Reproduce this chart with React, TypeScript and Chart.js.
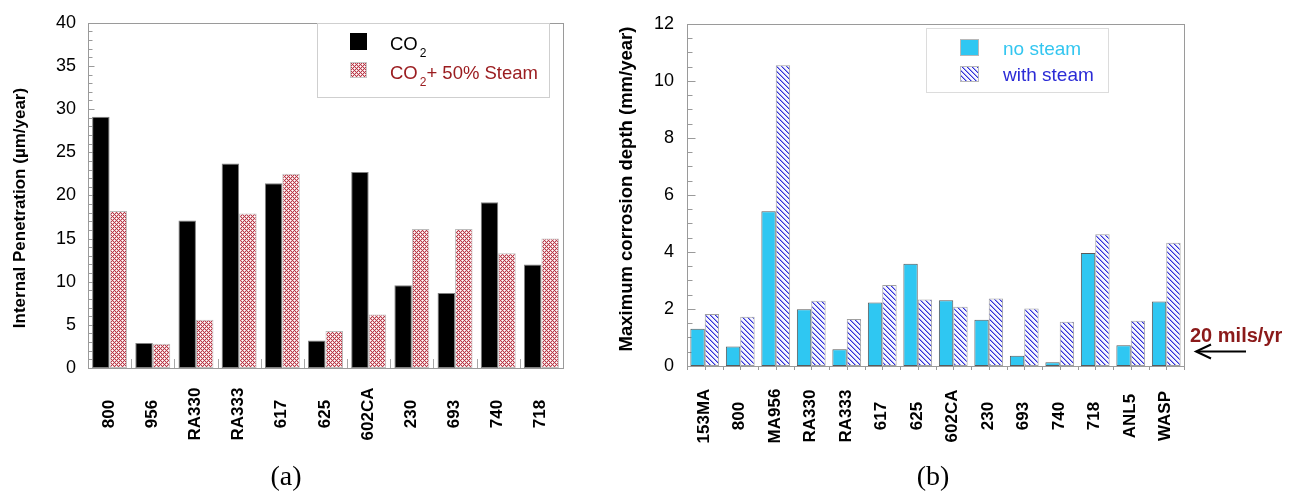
import React, { useEffect, useRef } from 'react';
import { Chart, registerables } from 'chart.js';

Chart.register(...registerables);

const FONT = "'Liberation Sans', Arial, Helvetica, sans-serif";
const SERIF = "'Liberation Serif', 'Times New Roman', serif";

// ---------- Panel (a) data ----------
const alloysA = ['800', '956', 'RA330', 'RA333', '617', '625', '602CA', '230', '693', '740', '718'];
const co2Values = [29.1, 2.9, 17.1, 23.7, 21.4, 3.2, 22.7, 9.6, 8.7, 19.2, 12.0];
const co2SteamValues = [18.2, 2.8, 5.6, 17.9, 22.5, 4.3, 6.2, 16.1, 16.1, 13.3, 15.0];
const yMaxA = 40;
const yStepA = 5;
const yMinorA = 1;
const yTitleA = 'Internal Penetration (\u00B5m/year)';

// ---------- Panel (b) data ----------
const alloysB = ['153MA', '800', 'MA956', 'RA330', 'RA333', '617', '625', '602CA', '230', '693', '740', '718', 'ANL5', 'WASP'];
const noSteamValues = [1.31, 0.68, 5.43, 1.99, 0.59, 2.23, 3.59, 2.31, 1.62, 0.36, 0.13, 3.96, 0.73, 2.26];
const withSteamValues = [1.82, 1.73, 10.55, 2.29, 1.65, 2.84, 2.33, 2.08, 2.37, 2.02, 1.55, 4.62, 1.59, 4.32];
const yMaxB = 12;
const yStepB = 2;
const yMinorB = 0.5;
const yTitleB = 'Maximum corrosion depth (mm/year)';
const arrowMilsPerYear = 20;
const arrowValueMm = arrowMilsPerYear * 0.0254;

function makeCrossPattern(): CanvasPattern | string {
  const c = document.createElement('canvas');
  c.width = 4;
  c.height = 4;
  const g = c.getContext('2d');
  if (!g) return '#c06070';
  const R = '#b63a48';
  const P = '#efc6cb';
  const W = '#ffffff';
  const map = [
    [R, P, W, P],
    [P, R, P, R],
    [W, P, R, P],
    [P, R, P, R],
  ];
  for (let yy = 0; yy < 4; yy++) {
    for (let xx = 0; xx < 4; xx++) {
      g.fillStyle = map[yy][xx];
      g.fillRect(xx, yy, 1, 1);
    }
  }
  return g.createPattern(c, 'repeat') || '#c06070';
}

function makeHatchPattern(): CanvasPattern | string {
  const c = document.createElement('canvas');
  c.width = 5;
  c.height = 5;
  const g = c.getContext('2d');
  if (!g) return '#8080e0';
  g.fillStyle = '#f6f6ff';
  g.fillRect(0, 0, 5, 5);
  for (let i = 0; i < 5; i++) {
    g.fillStyle = '#3030d8';
    g.fillRect(i, i, 1, 1);
    g.fillStyle = '#9c9cee';
    g.fillRect((i + 1) % 5, i, 1, 1);
  }
  return g.createPattern(c, 'repeat') || '#8080e0';
}

function hLine(ctx: CanvasRenderingContext2D, x1: number, y: number, x2: number) {
  ctx.beginPath();
  ctx.moveTo(x1, y);
  ctx.lineTo(x2, y);
  ctx.stroke();
}
function vLine(ctx: CanvasRenderingContext2D, x: number, y1: number, y2: number) {
  ctx.beginPath();
  ctx.moveTo(x, y1);
  ctx.lineTo(x, y2);
  ctx.stroke();
}

function drawFrame(chart: any, yMax: number, yStep: number, yMinor: number, majorLen: number, minorLen: number) {
  const { ctx, chartArea: a, scales } = chart;
  const y = scales.y;
  ctx.save();
  ctx.strokeStyle = '#9a9a9a';
  ctx.lineWidth = 1;
  const l = Math.round(a.left) + 0.5;
  const r = Math.round(a.right) + 0.5;
  const t = Math.round(a.top) + 0.5;
  const b = Math.round(a.bottom) + 0.5;
  ctx.strokeRect(l, t, r - l, b - t);
  const n = Math.round(yMax / yMinor);
  for (let k = 1; k < n; k++) {
    const v = k * yMinor;
    const py = Math.round(y.getPixelForValue(v)) + 0.5;
    const isMajor = Math.abs(v / yStep - Math.round(v / yStep)) < 1e-6;
    hLine(ctx, l, py, l + (isMajor ? majorLen : minorLen));
  }
  ctx.restore();
}

function drawRotatedLabels(chart: any, labels: string[], centerY: number) {
  const { ctx, scales } = chart;
  const x = scales.x;
  ctx.save();
  ctx.fillStyle = '#000';
  ctx.font = `bold 17px ${FONT}`;
  ctx.textAlign = 'center';
  ctx.textBaseline = 'alphabetic';
  labels.forEach((lab, i) => {
    const px = x.getPixelForValue(i);
    ctx.save();
    ctx.translate(px + 4, centerY);
    ctx.rotate(-Math.PI / 2);
    ctx.fillText(lab, 0, 0);
    ctx.restore();
  });
  ctx.restore();
}

function drawYTitle(ctx: CanvasRenderingContext2D, text: string, cx: number, cy: number, size: number) {
  ctx.save();
  ctx.fillStyle = '#000';
  ctx.font = `bold ${size}px ${FONT}`;
  ctx.textAlign = 'center';
  ctx.textBaseline = 'middle';
  ctx.translate(cx, cy);
  ctx.rotate(-Math.PI / 2);
  ctx.fillText(text, 0, 0);
  ctx.restore();
}

function drawPanelLetter(ctx: CanvasRenderingContext2D, text: string, cx: number) {
  ctx.save();
  ctx.fillStyle = '#000';
  ctx.font = `28px ${SERIF}`;
  ctx.textAlign = 'center';
  ctx.textBaseline = 'alphabetic';
  ctx.fillText(text, cx, 485);
  ctx.restore();
}

function makePluginA(cross: CanvasPattern | string) {
  return {
    id: 'panelA',
    beforeDatasetsDraw(chart: any) {
      drawFrame(chart, yMaxA, yStepA, yMinorA, 6, 4);
      const { ctx, chartArea: a, scales } = chart;
      const x = scales.x;
      ctx.save();
      ctx.strokeStyle = '#a8a8a8';
      ctx.lineWidth = 1;
      for (let i = 1; i < alloysA.length; i++) {
        const px = Math.round((x.getPixelForValue(i - 1) + x.getPixelForValue(i)) / 2) + 0.5;
        vLine(ctx, px, Math.round(a.bottom), Math.round(a.bottom) - 9);
      }
      ctx.restore();
    },
    afterDraw(chart: any) {
      const { ctx } = chart;
      drawRotatedLabels(chart, alloysA, 414);
      drawYTitle(ctx, yTitleA, 20, 208, 17);
      drawPanelLetter(ctx, '(a)', 286);
      // legend
      ctx.save();
      ctx.fillStyle = '#ffffff';
      ctx.fillRect(317.5, 23.5, 232, 74);
      ctx.strokeStyle = '#cfcfcf';
      ctx.lineWidth = 1;
      ctx.strokeRect(317.5, 23.5, 232, 74);
      ctx.fillStyle = '#000';
      ctx.fillRect(350, 33, 17, 17);
      ctx.fillStyle = cross as any;
      ctx.fillRect(350, 62, 17, 16);
      ctx.strokeStyle = '#c8c8c8';
      ctx.strokeRect(350.5, 62.5, 16, 15);
      ctx.textAlign = 'left';
      ctx.textBaseline = 'alphabetic';
      ctx.font = `18.5px ${FONT}`;
      ctx.fillStyle = '#000';
      ctx.fillText('CO', 390, 50);
      const coW = ctx.measureText('CO').width;
      ctx.font = `12px ${FONT}`;
      ctx.fillText('2', 390 + coW + 2, 57);
      const red = '#9b1d20';
      ctx.fillStyle = red;
      ctx.font = `18.5px ${FONT}`;
      ctx.fillText('CO', 390, 79);
      ctx.font = `12px ${FONT}`;
      ctx.fillText('2', 390 + coW + 2, 86);
      const twoW = ctx.measureText('2').width;
      ctx.font = `18.5px ${FONT}`;
      ctx.fillText('+ 50% Steam', 390 + coW + 2 + twoW, 79);
      ctx.restore();
    },
  };
}

function makePluginB(hatch: CanvasPattern | string) {
  return {
    id: 'panelB',
    beforeDatasetsDraw(chart: any) {
      drawFrame(chart, yMaxB, yStepB, yMinorB, 8, 5);
      const { ctx, chartArea: a, scales } = chart;
      const x = scales.x;
      ctx.save();
      ctx.strokeStyle = '#9a9a9a';
      ctx.lineWidth = 1;
      const n = alloysB.length;
      const half = (x.getPixelForValue(1) - x.getPixelForValue(0)) / 2;
      for (let i = 0; i < n; i++) {
        const c = x.getPixelForValue(i);
        const pts = [c - half, c];
        if (i === n - 1) pts.push(c + half);
        pts.forEach((p) => {
          const px = Math.round(p) + 0.5;
          vLine(ctx, px, Math.round(a.bottom), Math.round(a.bottom) + 4);
        });
      }
      ctx.restore();
    },
    afterDraw(chart: any) {
      const { ctx, scales } = chart;
      drawRotatedLabels(chart, alloysB, 416);
      drawYTitle(ctx, yTitleB, 27, 189, 18.5);
      drawPanelLetter(ctx, '(b)', 333);
      // legend
      ctx.save();
      ctx.fillStyle = '#ffffff';
      ctx.fillRect(326.5, 28.5, 182, 64);
      ctx.strokeStyle = '#dcdcdc';
      ctx.lineWidth = 1;
      ctx.strokeRect(326.5, 28.5, 182, 64);
      ctx.fillStyle = '#2fc7f2';
      ctx.fillRect(360, 39, 19, 17);
      ctx.strokeStyle = '#b8b8b8';
      ctx.strokeRect(360.5, 39.5, 18, 16);
      ctx.fillStyle = hatch as any;
      ctx.fillRect(360, 66, 19, 16);
      ctx.strokeRect(360.5, 66.5, 18, 15);
      ctx.textAlign = 'left';
      ctx.textBaseline = 'alphabetic';
      ctx.font = `19px ${FONT}`;
      ctx.fillStyle = '#33c6f0';
      ctx.fillText('no steam', 403, 55);
      ctx.fillStyle = '#2b2bd6';
      ctx.fillText('with steam', 403, 81);
      ctx.restore();
      // 20 mils/yr arrow
      const yPix = scales.y.getPixelForValue(arrowValueMm);
      ctx.save();
      ctx.fillStyle = '#8b1a1a';
      ctx.font = `bold 20px ${FONT}`;
      ctx.textAlign = 'left';
      ctx.textBaseline = 'alphabetic';
      ctx.fillText(`${arrowMilsPerYear} mils/yr`, 590, 342);
      ctx.strokeStyle = '#000';
      ctx.lineWidth = 2;
      ctx.beginPath();
      ctx.moveTo(646, yPix);
      ctx.lineTo(597, yPix);
      ctx.stroke();
      ctx.beginPath();
      ctx.moveTo(611, yPix - 7);
      ctx.lineTo(596, yPix);
      ctx.lineTo(611, yPix + 7);
      ctx.stroke();
      ctx.restore();
    },
  };
}

export default function App() {
  const refA = useRef<HTMLCanvasElement>(null);
  const refB = useRef<HTMLCanvasElement>(null);

  useEffect(() => {
    document.body.style.margin = '0';
    const cross = makeCrossPattern();
    const hatch = makeHatchPattern();

    const chartA = new Chart(refA.current as HTMLCanvasElement, {
      type: 'bar',
      data: {
        labels: alloysA,
        datasets: [
          {
            label: 'CO2',
            data: co2Values,
            backgroundColor: '#000000',
            borderColor: '#808080',
            borderWidth: 1,
            borderSkipped: false,
            categoryPercentage: 0.81,
            barPercentage: 1,
          },
          {
            label: 'CO2 + 50% Steam',
            data: co2SteamValues,
            backgroundColor: cross as any,
            borderColor: '#bdbdbd',
            borderWidth: 1,
            borderSkipped: false,
            categoryPercentage: 0.81,
            barPercentage: 1,
          },
        ],
      },
      options: {
        responsive: false,
        animation: false,
        devicePixelRatio: 1,
        layout: { padding: { top: 19, right: 37, left: 0, bottom: 0 } },
        plugins: { legend: { display: false }, tooltip: { enabled: false }, title: { display: false } },
        scales: {
          x: {
            ticks: { display: false },
            grid: { display: false, drawTicks: false },
            border: { display: false },
            afterFit: (s: any) => {
              s.height = 126;
            },
          },
          y: {
            min: 0,
            max: yMaxA,
            ticks: { stepSize: yStepA, padding: 12, color: '#000', font: { family: FONT, size: 18 } },
            grid: { display: false, drawTicks: false },
            border: { display: false },
            afterFit: (s: any) => {
              s.width = 88;
            },
          },
        },
      },
      plugins: [makePluginA(cross)],
    } as any);

    const chartB = new Chart(refB.current as HTMLCanvasElement, {
      type: 'bar',
      data: {
        labels: alloysB,
        datasets: [
          {
            label: 'no steam',
            data: noSteamValues,
            backgroundColor: '#2fc7f2',
            borderColor: '#5a5a5a',
            borderWidth: 1,
            borderSkipped: false,
            categoryPercentage: 0.81,
            barPercentage: 1,
          },
          {
            label: 'with steam',
            data: withSteamValues,
            backgroundColor: hatch as any,
            borderColor: '#a0a0a0',
            borderWidth: 1,
            borderSkipped: false,
            categoryPercentage: 0.81,
            barPercentage: 1,
          },
        ],
      },
      options: {
        responsive: false,
        animation: false,
        devicePixelRatio: 1,
        layout: { padding: { top: 15, right: 105, left: 0, bottom: 0 } },
        plugins: { legend: { display: false }, tooltip: { enabled: false }, title: { display: false } },
        scales: {
          x: {
            ticks: { display: false },
            grid: { display: false, drawTicks: false },
            border: { display: false },
            afterFit: (s: any) => {
              s.height = 128;
            },
          },
          y: {
            min: 0,
            max: yMaxB,
            ticks: { stepSize: yStepB, padding: 13, color: '#000', font: { family: FONT, size: 18 } },
            grid: { display: false, drawTicks: false },
            border: { display: false },
            afterFit: (s: any) => {
              s.width = 87;
            },
          },
        },
      },
      plugins: [makePluginB(hatch)],
    } as any);

    return () => {
      chartA.destroy();
      chartB.destroy();
    };
  }, []);

  return (
    <div style={{ position: 'relative', width: 1289, height: 494, background: '#ffffff' }}>
      <canvas ref={refA} width={600} height={494} style={{ position: 'absolute', left: 0, top: 0, display: 'block' }} />
      <canvas ref={refB} width={689} height={494} style={{ position: 'absolute', left: 600, top: 0, display: 'block' }} />
    </div>
  );
}
